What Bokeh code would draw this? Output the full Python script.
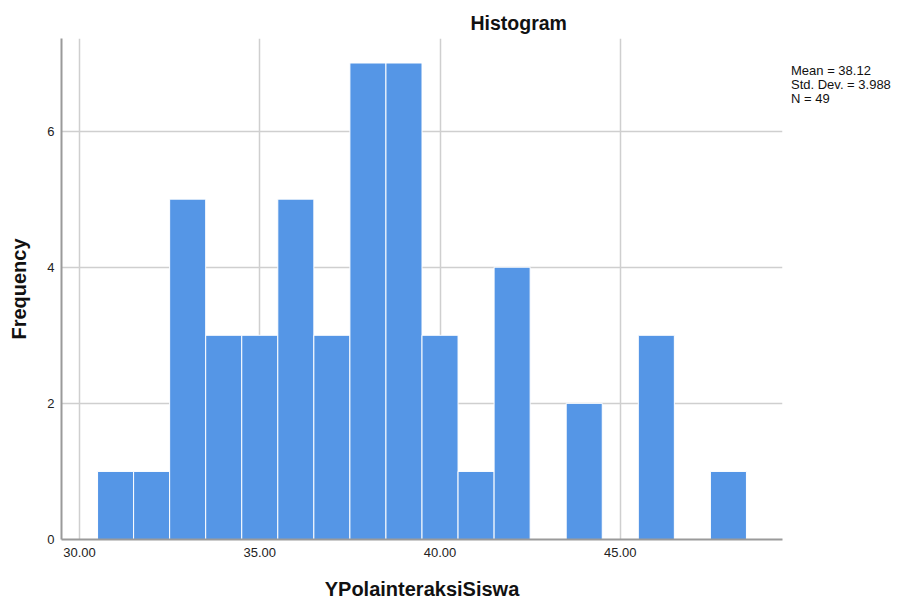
from bokeh.plotting import figure
from bokeh.models import FixedTicker, NumeralTickFormatter, Range1d, ColumnDataSource, Div
from bokeh.layouts import row
from bokeh.embed import file_html
from bokeh.resources import INLINE

# data
bin_centers = [31, 32, 33, 34, 35, 36, 37, 38, 39, 40, 41, 42, 43, 44, 45, 46, 47, 48]
counts = [1, 1, 5, 3, 3, 5, 3, 7, 7, 3, 1, 4, 0, 2, 0, 3, 0, 1]
bin_width = 1.0
x_ticks = [30, 35, 40, 45]
y_ticks = [0, 2, 4, 6]
stats_lines = ["Mean = 38.12", "Std. Dev. = 3.988", "N = 49"]
title_text = "Histogram"
x_label = "YPolainteraksiSiswa"
y_label = "Frequency"

FONT = "Liberation Sans"

left = [c - bin_width / 2 for c, n in zip(bin_centers, counts) if n > 0]
right = [c + bin_width / 2 for c, n in zip(bin_centers, counts) if n > 0]
top = [n for n in counts if n > 0]
src = ColumnDataSource(dict(left=left, right=right, top=top, bottom=[0] * len(top)))

p = figure(width=790, height=603, output_backend="svg", toolbar_location=None,
           x_range=Range1d(29.5, 49.5), y_range=Range1d(0, 7.36),
           min_border_left=61, min_border_right=8, min_border_top=38, min_border_bottom=64)
p.outline_line_color = None
p.background_fill_color = "white"
p.border_fill_color = "white"

p.quad(left="left", right="right", top="top", bottom="bottom", source=src,
       fill_color="#5596E6", line_color="white", line_width=1)

for ax in (p.xaxis[0], p.yaxis[0]):
    ax.axis_line_color = "#9a9a9a"
    ax.axis_line_width = 2
    ax.major_tick_line_color = None
    ax.minor_tick_line_color = None
    ax.major_tick_out = 0
    ax.major_tick_in = 0
    ax.major_label_text_font = FONT
    ax.major_label_text_font_size = "13px"
    ax.major_label_text_color = "#222222"
    ax.axis_label_text_font = FONT
    ax.axis_label_text_font_size = "20px"
    ax.axis_label_text_font_style = "bold"
    ax.axis_label_text_color = "#111111"

p.xaxis[0].ticker = FixedTicker(ticks=x_ticks)
p.xaxis[0].formatter = NumeralTickFormatter(format="0.00")
p.xaxis[0].major_label_standoff = 8
p.xaxis[0].axis_label = x_label
p.xaxis[0].axis_label_standoff = 18
p.yaxis[0].ticker = FixedTicker(ticks=y_ticks)
p.yaxis[0].major_label_standoff = 7
p.yaxis[0].axis_label = y_label
p.yaxis[0].axis_label_standoff = 14

p.xgrid[0].ticker = FixedTicker(ticks=x_ticks)
p.ygrid[0].ticker = FixedTicker(ticks=y_ticks[1:])
for g in (p.xgrid[0], p.ygrid[0]):
    g.grid_line_color = "#cfcfcf"
    g.grid_line_width = 1.5

# title
p.title.text = title_text
p.title.text_font = FONT
p.title.text_font_size = "19.5px"
p.title.text_font_style = "bold"
p.title.text_color = "#111111"
p.title.align = "left"
p.title.offset = 409
p.title.standoff = 9

# statistics box to the right of the plot
stats = Div(text="<br>".join(stats_lines), width=109, height=603, margin=(0, 0, 0, 0),
            styles={"font-family": FONT, "font-size": "13px", "line-height": "14px",
                    "color": "#111111", "padding-top": "64px", "padding-left": "1px",
                    "white-space": "nowrap"})

layout = row(p, stats, spacing=0)

open("out.html", "w").write(file_html(layout, INLINE))
